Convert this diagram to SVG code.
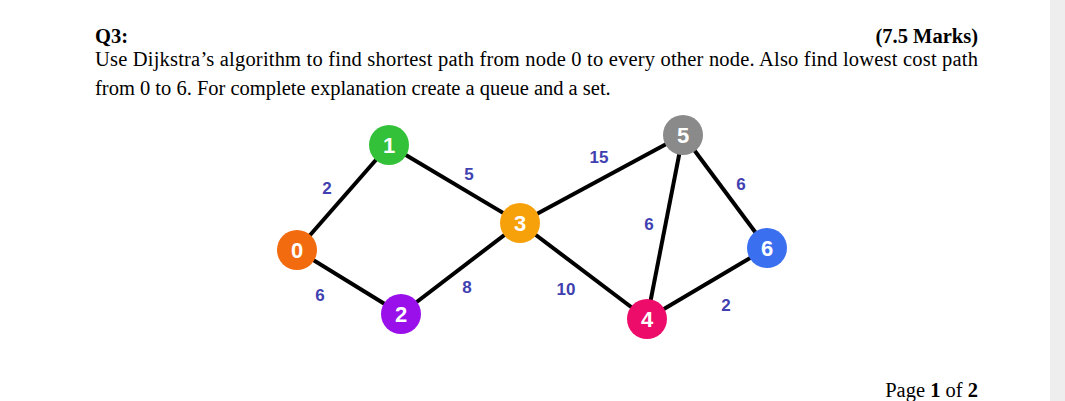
<svg xmlns="http://www.w3.org/2000/svg" width="1065" height="401" viewBox="0 0 1065 401">
<style>
.t{font-family:"Liberation Serif",serif;font-size:20.5px;fill:#000}
.b{font-weight:bold}
.e{stroke:#000;stroke-width:4}
.w{font-family:"Liberation Sans",sans-serif;font-weight:bold;font-size:17px;fill:#4040b0;text-anchor:middle}
.n{font-family:"Liberation Sans",sans-serif;font-weight:bold;font-size:22px;fill:#fff;text-anchor:middle}
</style>
<rect width="1065" height="401" fill="#fff"/>
<rect x="1050" y="0" width="15" height="401" fill="#eeeeee"/>
<text class="t b" x="95" y="43">Q3:</text>
<text class="t b" x="978" y="43" text-anchor="end">(7.5 Marks)</text>
<text class="t" x="95" y="66" textLength="883" lengthAdjust="spacing">Use Dijkstra’s algorithm to find shortest path from node 0 to every other node. Also find lowest cost path</text>
<text class="t" x="95" y="95">from 0 to 6. For complete explanation create a queue and a set.</text>
<text class="t" x="978" y="397" text-anchor="end">Page <tspan class="b">1</tspan> of <tspan class="b">2</tspan></text>
<g id="edges">
<line class="e" x1="297" y1="250" x2="389" y2="145"/>
<line class="e" x1="297" y1="250" x2="401" y2="314"/>
<line class="e" x1="389" y1="145" x2="520" y2="223"/>
<line class="e" x1="401" y1="314" x2="520" y2="223"/>
<line class="e" x1="520" y1="223" x2="683" y2="135"/>
<line class="e" x1="520" y1="223" x2="647" y2="319"/>
<line class="e" x1="683" y1="135" x2="647" y2="319"/>
<line class="e" x1="683" y1="135" x2="767" y2="248"/>
<line class="e" x1="647" y1="319" x2="767" y2="248"/>
<text class="w" x="327" y="194">2</text>
<text class="w" x="469" y="180">5</text>
<text class="w" x="320" y="301">6</text>
<text class="w" x="467" y="293">8</text>
<text class="w" x="599" y="163">15</text>
<text class="w" x="649" y="230">6</text>
<text class="w" x="566" y="295">10</text>
<text class="w" x="741" y="190">6</text>
<text class="w" x="726" y="311">2</text>
</g>
<g id="n0"><circle cx="297" cy="250" r="20" fill="#f26b0f"/><text class="n" x="297" y="258">0</text></g>
<g id="n1"><circle cx="389" cy="145" r="20" fill="#33c13a"/><text class="n" x="389" y="153">1</text></g>
<g id="n2"><circle cx="401" cy="314" r="20" fill="#9a10ea"/><text class="n" x="401" y="322">2</text></g>
<g id="n3"><circle cx="520" cy="223" r="20" fill="#f7a10a"/><text class="n" x="520" y="231">3</text></g>
<g id="n4"><circle cx="647" cy="319" r="20" fill="#ee0c6a"/><text class="n" x="647" y="327">4</text></g>
<g id="n5"><circle cx="683" cy="135" r="20" fill="#8a8a8a"/><text class="n" x="683" y="143">5</text></g>
<g id="n6"><circle cx="767" cy="248" r="20" fill="#3a6ff0"/><text class="n" x="767" y="256">6</text></g>
</svg>
